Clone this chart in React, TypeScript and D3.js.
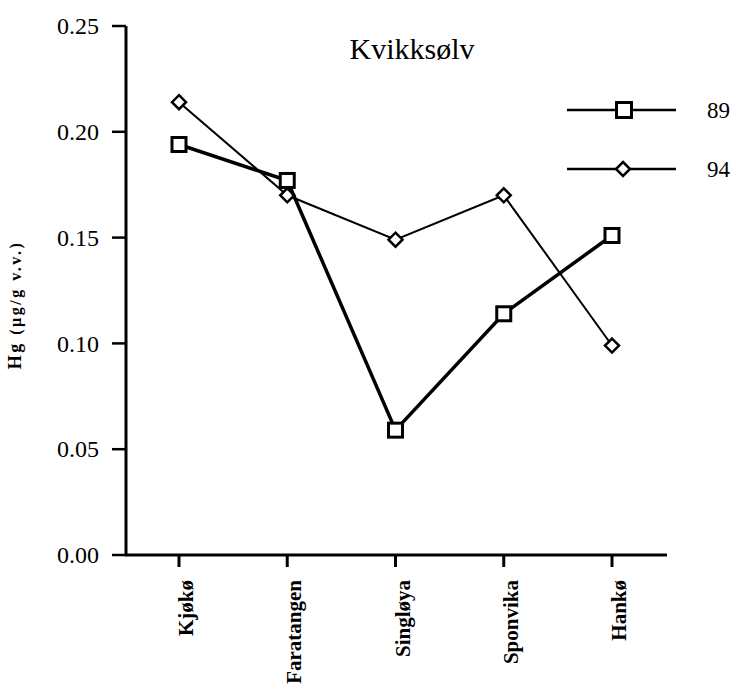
import React from "react";
import * as d3 from "d3";

const categories = ["Kjøkø", "Faratangen", "Singløya", "Sponvika", "Hankø"];
const series89 = [0.194, 0.177, 0.059, 0.114, 0.151];
const series94 = [0.214, 0.170, 0.149, 0.170, 0.099];
const yTicks = [0, 0.05, 0.1, 0.15, 0.2, 0.25];
const seriesNames = ["89", "94"];

const W = 736, H = 685;
const FONT = "Liberation Serif, Times New Roman, Times, DejaVu Serif, serif";

export default function App() {
  const x = d3.scalePoint<string>().domain(categories).range([179, 612]);
  const y = d3.scaleLinear().domain([0, 0.25]).range([555, 26]);
  const line = d3.line<number>().x((_, i) => x(categories[i])!).y((d) => y(d));
  const diamond = (cx: number, cy: number, r: number) =>
    `M${cx},${cy - r}L${cx + r},${cy}L${cx},${cy + r}L${cx - r},${cy}Z`;
  const sq = 14;
  return (
    <svg width={W} height={H} style={{ position: "absolute", left: 0, top: 0, background: "#fff", fontFamily: FONT }}>
      {/* Axes */}
      <line x1={126} x2={126} y1={y(0.25)} y2={y(0) + 1} stroke="#000" strokeWidth={3} />
      <line x1={125} x2={667} y1={y(0)} y2={y(0)} stroke="#000" strokeWidth={3} />
      {yTicks.map((t) => (
        <g key={t}>
          <line x1={112} x2={126} y1={y(t)} y2={y(t)} stroke="#000" strokeWidth={2.5} />
          <text x={99} y={y(t)} dy="0.34em" textAnchor="end" fontSize={24}>
            {t.toFixed(2)}
          </text>
        </g>
      ))}
      {categories.map((c) => (
        <g key={c}>
          <line x1={x(c)} x2={x(c)} y1={y(0)} y2={y(0) + 12} stroke="#000" strokeWidth={3} />
          <text
            transform={`translate(${x(c)! + 14},${y(0) + 25}) rotate(-90)`}
            textAnchor="end"
            fontSize={21}
            fontWeight="bold"
          >
            {c}
          </text>
        </g>
      ))}
      <text
        transform={`translate(21,305) rotate(-90)`}
        textAnchor="middle"
        fontSize={16}
        fontWeight="bold"
        letterSpacing={2.5}
      >
        <tspan fontSize={18}>Hg</tspan> (µg/g v.v.)
      </text>
      <text x={412} y={59} textAnchor="middle" fontSize={30}>Kvikksølv</text>

      {/* Series 94 */}
      <path d={line(series94)!} fill="none" stroke="#000" strokeWidth={2} />
      {series94.map((v, i) => (
        <path key={i} d={diamond(x(categories[i])!, y(v), 7)} fill="#fff" stroke="#000" strokeWidth={2.5} />
      ))}
      {/* Series 89 */}
      <path d={line(series89)!} fill="none" stroke="#000" strokeWidth={3.5} />
      {series89.map((v, i) => (
        <rect key={i} x={x(categories[i])! - sq / 2} y={y(v) - sq / 2} width={sq} height={sq} fill="#fff" stroke="#000" strokeWidth={3} />
      ))}

      {/* Legend */}
      <line x1={567} x2={676} y1={110} y2={110} stroke="#000" strokeWidth={2.5} />
      <rect x={624 - (sq + 1) / 2} y={110 - (sq + 1) / 2} width={sq + 1} height={sq + 1} fill="#fff" stroke="#000" strokeWidth={3} />
      <text x={707} y={110} dy="0.34em" fontSize={23}>{seriesNames[0]}</text>
      <line x1={567} x2={676} y1={169} y2={169} stroke="#000" strokeWidth={2.5} />
      <path d={diamond(623, 169, 7)} fill="#fff" stroke="#000" strokeWidth={2.5} />
      <text x={707} y={169} dy="0.34em" fontSize={23}>{seriesNames[1]}</text>
    </svg>
  );
}
